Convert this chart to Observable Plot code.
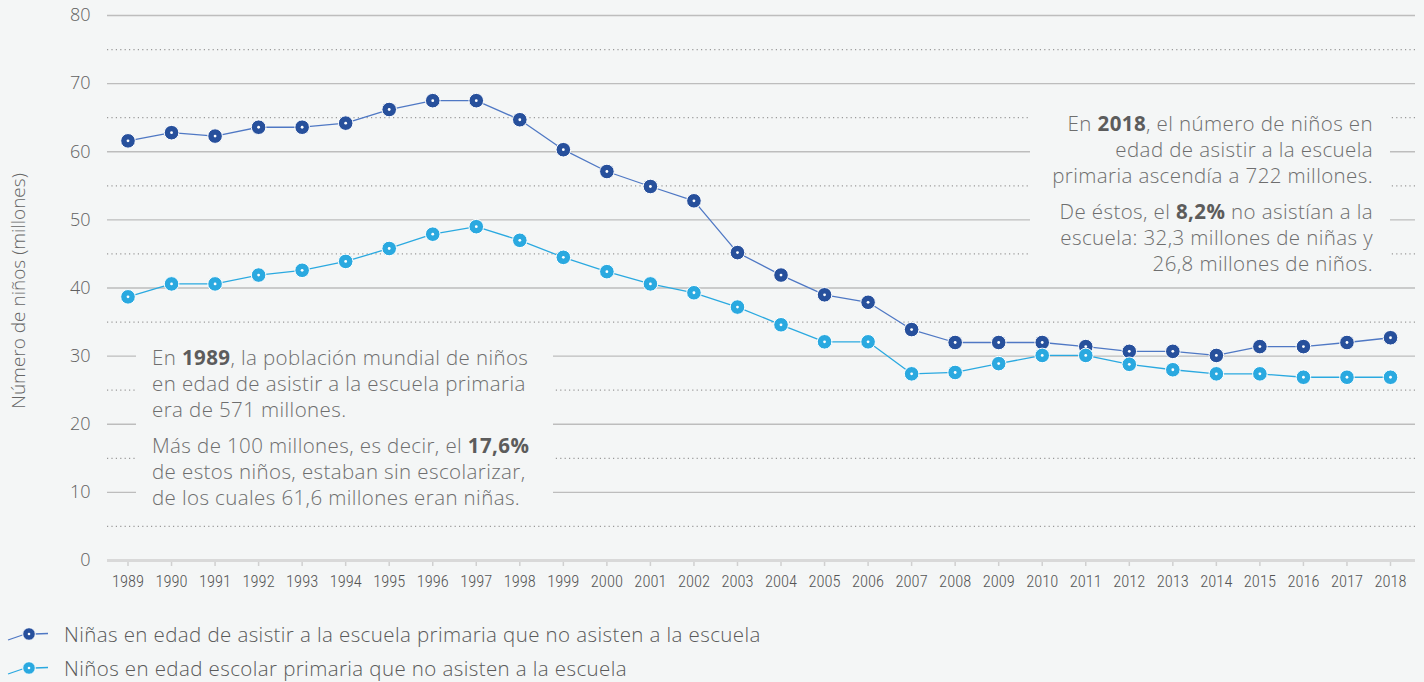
<!DOCTYPE html>
<html>
<head>
<meta charset="utf-8">
<script src="https://cdn.jsdelivr.net/npm/d3@7"></script>
<script src="https://cdn.jsdelivr.net/npm/@observablehq/plot@0.6"></script>
<style>
  html, body { margin: 0; padding: 0; background: #f4f6f6; }
  body { width: 1424px; height: 682px; overflow: hidden; font-family: "Open Sans", Roboto, "Liberation Sans", sans-serif; font-weight: 300; }
  #wrap { position: relative; width: 1424px; height: 600px; }
  .note { position: absolute; background: #f4f6f6; color: #6e6e6e; font-size: 20.5px; letter-spacing: 0.4px; line-height: 26px; }
  .note p { margin: 0 0 10px 0; white-space: nowrap; }
  .note b { font-weight: 700; color: #5c5c5c; }
  .legend { position: relative; height: 82px; }
  .lrow { position: absolute; left: 0; display: flex; align-items: center; color: #5a5a5a; font-size: 20.5px; letter-spacing: 0.4px; white-space: nowrap; }
  .lrow svg { display: block; margin-right: 8px; }
</style>
</head>
<body>
<div id="wrap"></div>
<div class="legend" id="legend"></div>
<script>
const years = [1989,1990,1991,1992,1993,1994,1995,1996,1997,1998,1999,2000,2001,2002,2003,2004,2005,2006,2007,2008,2009,2010,2011,2012,2013,2014,2015,2016,2017,2018];
const girls = [61.6,62.8,62.3,63.6,63.6,64.2,66.2,67.5,67.5,64.7,60.3,57.1,54.9,52.8,45.2,41.9,39.0,37.9,33.9,32.0,32.0,32.0,31.4,30.7,30.7,30.1,31.4,31.4,32.0,32.7];
const boys  = [38.7,40.6,40.6,41.9,42.6,43.9,45.8,47.9,49.0,47.0,44.5,42.4,40.6,39.3,37.2,34.6,32.1,32.1,27.4,27.6,28.9,30.1,30.1,28.8,28.0,27.4,27.4,26.9,26.9,26.9];
const seriesNames = [
  "Niñas en edad de asistir a la escuela primaria que no asisten a la escuela",
  "Niños en edad escolar primaria que no asisten a la escuela"
];
const yTicks = [0,10,20,30,40,50,60,70,80];
const yMinor = [5,15,25,35,45,55,65,75];
const yTitle = "Número de niños (millones)";

const dotColors = ["#27509c", "#2aa9e0"];
const lineColors = ["#4f78c4", "#2aa9e0"];
const bodyFont = "'Open Sans', Roboto, 'Liberation Sans', sans-serif";

const rows = [];
years.forEach((yr, i) => {
  rows.push({year: yr, value: girls[i], s: seriesNames[0]});
  rows.push({year: yr, value: boys[i], s: seriesNames[1]});
});

const chart = Plot.plot({
  width: 1424,
  height: 600,
  marginLeft: 107,
  marginRight: 9,
  marginTop: 15,
  marginBottom: 40,
  style: {background: "transparent", fontFamily: bodyFont},
  x: {type: "linear", domain: [1989, 2018], range: [127.5, 1390]},
  y: {domain: [0, 80]},
  color: {domain: seriesNames, range: dotColors},
  marks: [
    Plot.ruleY(yMinor, {stroke: "#9a9a9a", strokeWidth: 1.2, strokeDasharray: "1.2,3.2", strokeOpacity: 1}),
    Plot.ruleY(yTicks.filter(d => d > 0), {stroke: "#bdbdbd", strokeWidth: 1.3}),
    Plot.axisY({ticks: yTicks, tickSize: 0, tickPadding: 17, fontSize: 18, label: null, color: "#606060", fontFamily: bodyFont}),
    Plot.axisX({ticks: years, tickFormat: d => String(d), tickSize: 6, tickPadding: 9, fontSize: 16.5, label: null, color: "#555", stroke: "#d0d0d0", strokeWidth: 1.5,
      fontFamily: "'Roboto Condensed', 'Liberation Sans Narrow', 'DejaVu Sans Condensed', sans-serif", fontStretch: "condensed"}),
    Plot.ruleY([0], {stroke: "#d9d9d9", strokeWidth: 3}),
    Plot.text([yTitle], {frameAnchor: "left", dx: -89, dy: 3, rotate: -90, textAnchor: "middle", fontSize: 19, fill: "#666", fontFamily: bodyFont}),
    Plot.line(rows, {x: "year", y: "value", z: "s", stroke: d => d.s === seriesNames[0] ? lineColors[0] : lineColors[1], strokeWidth: 1.3}),
    Plot.dot(rows, {x: "year", y: "value", r: 7.3, fill: "s", stroke: "white", strokeWidth: 1}),
    Plot.dot(rows, {x: "year", y: "value", r: 1.4, fill: "white", stroke: "none"})
  ]
});
chart.querySelectorAll("text").forEach(t => t.style.fontWeight = "300");
const wrap = document.getElementById("wrap");
wrap.appendChild(chart);

const n1 = document.createElement("div");
n1.className = "note";
n1.style.cssText = "left:136px; top:337px; width:417px; height:176px; padding:7px 0 0 16px; box-sizing:border-box; text-align:left;";
n1.innerHTML = "<p>En <b>1989</b>, la población mundial de niños<br>en edad de asistir a la escuela primaria<br>era de 571 millones.</p><p>Más de 100 millones, es decir, el <b>17,6%</b><br>de estos niños, estaban sin escolarizar,<br>de los cuales 61,6 millones eran niñas.</p>";
wrap.appendChild(n1);

const n2 = document.createElement("div");
n2.className = "note";
n2.style.cssText = "left:1030px; top:103px; width:360px; height:172px; padding:7px 17px 0 0; box-sizing:border-box; text-align:right;";
n2.innerHTML = "<p>En <b>2018</b>, el número de niños en<br>edad de asistir a la escuela<br>primaria ascendía a 722 millones.</p><p>De éstos, el <b>8,2%</b> no asistían a la<br>escuela: 32,3 millones de niñas y<br>26,8 millones de niños.</p>";
wrap.appendChild(n2);

const legend = document.getElementById("legend");
seriesNames.forEach((name, i) => {
  const row = document.createElement("div");
  row.className = "lrow";
  row.style.top = (i === 0 ? 20 : 54) + "px";
  row.innerHTML = `<svg width="56" height="24"><line x1="8" y1="18" x2="24" y2="12.5" stroke="${lineColors[i]}" stroke-width="1.3"/><line x1="34" y1="12" x2="48" y2="11.5" stroke="${lineColors[i]}" stroke-width="1.3"/><circle cx="29" cy="12" r="6.3" fill="${dotColors[i]}" stroke="white" stroke-width="1"/><circle cx="29" cy="12" r="1.3" fill="white"/></svg><span>${name}</span>`;
  legend.appendChild(row);
});
</script>
</body>
</html>
